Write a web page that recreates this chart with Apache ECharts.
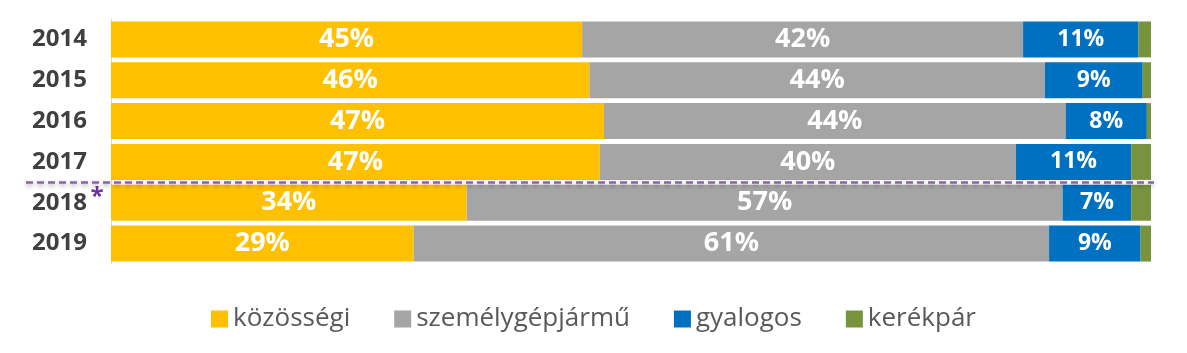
<!DOCTYPE html>
<html>
<head>
<meta charset="utf-8">
<script src="https://cdn.jsdelivr.net/npm/echarts@6/dist/echarts.min.js"></script>
<style>
html,body{margin:0;padding:0;background:#fff;}
#chart{width:1187px;height:353px;}
</style>
</head>
<body>
<div id="chart"></div>
<script>
const years = ['2014', '2015', '2016', '2017', '2018', '2019'];
const kozossegi = [45.3, 46.0, 47.4, 47.0, 34.2, 29.1];
const szemelygepjarmu = [42.4, 43.8, 44.4, 40.0, 57.3, 61.1];
const gyalogos = [11.1, 9.4, 7.8, 11.1, 6.6, 8.8];
const kerekpar = [1.2, 0.8, 0.4, 1.9, 1.9, 1.0];
const seriesNames = ['közösségi', 'személygépjármű', 'gyalogos', 'kerékpár'];
const starredYear = '2018';

const colors = ['#ffc000', '#a5a5a5', '#0070c0', '#77933c'];
const FONT = 'Open Sans';

const chart = echarts.init(document.getElementById('chart'));

function mk(name, data, color, labelSize, showLabel) {
  return {
    name: name,
    type: 'bar',
    stack: 'total',
    data: data,
    barCategoryGap: '12%',
    itemStyle: { color: color },
    label: {
      show: showLabel,
      position: 'inside',
      color: '#ffffff',
      fontFamily: FONT,
      fontWeight: 'bold',
      fontSize: labelSize,
      formatter: p => Math.round(p.value) + '%'
    },
    emphasis: { disabled: true }
  };
}

chart.setOption({
  animation: false,
  color: colors,
  grid: { left: 111, right: 36, top: 19, bottom: 89 },
  legend: {
    bottom: 16,
    left: 'center',
    itemWidth: 17,
    itemHeight: 17,
    itemGap: 44,
    icon: 'rect',
    textStyle: { fontFamily: FONT, fontSize: 26, color: '#595959', padding: [0, 0, 0, 0] },
    data: seriesNames
  },
  xAxis: {
    type: 'value',
    min: 0,
    max: 100,
    show: false
  },
  yAxis: {
    type: 'category',
    inverse: true,
    data: years,
    axisLine: { show: true, lineStyle: { color: '#d9d9d9', width: 1 } },
    axisTick: { show: false },
    axisLabel: {
      margin: 4,
      formatter: v => v === starredYear ? '{y|' + v + '}{s|*}' : '{y|' + v + '}{s|}',
      rich: {
        y: { fontFamily: FONT, fontWeight: 'bold', fontSize: 24, color: '#404040' },
        s: { fontFamily: FONT, fontWeight: 'bold', fontSize: 24, color: '#7030a0', width: 20, align: 'center', padding: [0, 0, 12, 0] }
      }
    }
  },
  series: [
    mk(seriesNames[0], kozossegi, colors[0], 27, true),
    mk(seriesNames[1], szemelygepjarmu, colors[1], 27, true),
    mk(seriesNames[2], gyalogos, colors[2], 23, true),
    mk(seriesNames[3], kerekpar, colors[3], 16, false)
  ]
});

// dashed separator between 2017 and 2018
const idx = years.indexOf(starredYear);
const yA = chart.convertToPixel({ yAxisIndex: 0 }, years[idx - 1]);
const yB = chart.convertToPixel({ yAxisIndex: 0 }, years[idx]);
const ySep = Math.round((yA + yB) / 2) + 0.5;
const xEnd = chart.convertToPixel({ xAxisIndex: 0 }, 100) + 3;
chart.setOption({
  graphic: [{
    type: 'line',
    z: 100,
    shape: { x1: 26, y1: ySep, x2: xEnd, y2: ySep },
    style: {
      stroke: '#8a64a8',
      lineWidth: 2.5,
      lineDash: [7, 4],
      shadowColor: 'rgba(0,0,0,0.35)',
      shadowBlur: 4,
      shadowOffsetY: 2
    }
  }]
});
</script>
</body>
</html>
